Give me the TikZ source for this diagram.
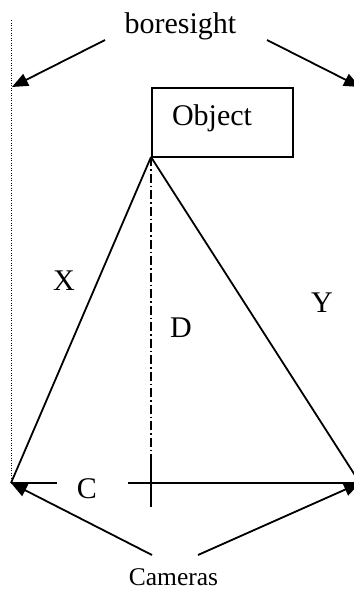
\documentclass[tikz,border=0pt]{standalone}
\usepackage{fontspec}
\setmainfont{Liberation Serif}
\usetikzlibrary{arrows.meta}
\begin{document}
\begin{tikzpicture}[x=1pt,y=-1pt,
  line/.style={line width=1.8pt},
  arr/.style={line width=1.8pt,-{Triangle[length=16pt,width=13pt]}},
  dotline/.style={line width=1pt,dash pattern=on 1pt off 1.5pt},
  dashdotline/.style={line width=1.8pt,dash pattern=on 9pt off 3pt on 1.5pt off 3pt},
  lbl/.style={font=\fontsize{30}{36}\selectfont, inner sep=0pt, anchor=base},
  small/.style={font=\fontsize{25.5}{30}\selectfont, inner sep=0pt, anchor=base}]
\useasboundingbox (0,0) rectangle (354,590);
% key points
\coordinate (apex) at (151,157);
\coordinate (camL) at (11,483);
\coordinate (camR) at (360,483);
\coordinate (bsL) at (12,87);
\coordinate (bsR) at (360,87);
\coordinate (bsLs) at (105,40);
\coordinate (bsRs) at (267,40);
\coordinate (top) at (11,20);
\coordinate (dd) at (151,457);
\coordinate (tickB) at (151,507);
\coordinate (cL) at (57,483);
\coordinate (cR) at (128,483);
\coordinate (camLs) at (152,555);
\coordinate (camRs) at (198,555);
% object box and labels
\node[draw, line width=1.8pt, minimum width=141pt, minimum height=69pt, inner sep=0pt, anchor=north west] (obj) at (151,87) {};
\node[lbl] (objt) at (212,125) {Object};
\node[lbl] (bs) at (180.5,33) {boresight};
\node[lbl] (X) at (64,290) {X};
\node[lbl] (Y) at (322,312) {Y};
\node[lbl] (D) at (181,337) {D};
\node[lbl] (C) at (87,498) {C};
\node[small] (cams) at (173.5,585) {Cameras};
% lines
\draw[dotline] (top) -- (camL);
\draw[line] (apex) -- (camL);
\draw[line] (apex) -- (camR);
\draw[dashdotline] (apex) -- (dd);
\draw[line] (dd) -- (tickB);
\draw[line] (camL) -- (cL);
\draw[line] (cR) -- (camR);
% arrows
\draw[arr] (bsLs) -- (bsL);
\draw[arr] (bsRs) -- (bsR);
\draw[arr] (camLs) -- (camL);
\draw[arr] (camRs) -- (camR);
\end{tikzpicture}
\end{document}
